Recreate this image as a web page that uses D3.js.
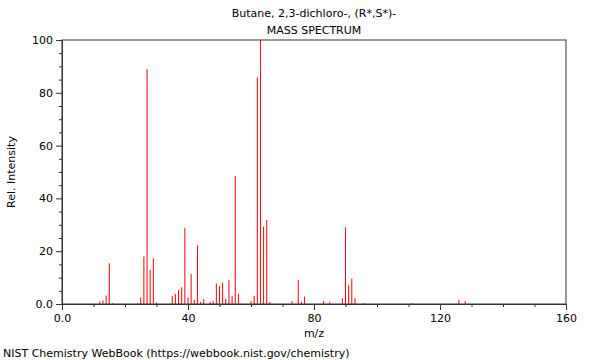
<!DOCTYPE html>
<html>
<head>
<meta charset="utf-8">
<script src="https://cdn.jsdelivr.net/npm/d3@7"></script>
<style>
  html, body { margin: 0; padding: 0; background: #fff; }
  svg { display: block; font-family: "DejaVu Sans", sans-serif; }
</style>
</head>
<body>
<svg id="chart" width="600" height="360"></svg>
<script>
// ---- data ----
const title1 = "Butane, 2,3-dichloro-, (R*,S*)-";
const title2 = "MASS SPECTRUM";
const xLabel = "m/z";
const yLabel = "Rel. Intensity";
const footer = "NIST Chemistry WebBook (https://webbook.nist.gov/chemistry)";

const mz = [12, 13, 14, 15, 16, 24, 25, 26, 27, 28, 29, 30,
            35, 36, 37, 38, 39, 40, 41, 42, 43, 44, 45, 47, 48,
            49, 50, 51, 52, 53, 54, 55, 56, 60, 61, 62, 63, 64, 65, 66,
            73, 75, 76, 77, 83, 85, 89, 90, 91, 92, 93, 96, 111, 126, 128];
const intensity = [1.0, 1.4, 3.2, 15.4, 0.3, 0.4, 2.5, 18.0, 89.0, 12.9, 17.3, 0.5,
                   3.0, 3.8, 5.3, 6.3, 28.7, 2.5, 11.4, 1.5, 22.3, 0.8, 1.8, 0.8, 1.2,
                   7.8, 6.8, 8.1, 1.9, 9.1, 3.0, 48.5, 3.9, 1.1, 3.0, 85.9, 100, 29.3, 31.8, 0.8,
                   1.1, 9.0, 0.8, 2.8, 1.1, 0.7, 2.2, 29.0, 7.1, 9.6, 2.2, 0.3, 0.3, 1.6, 1.1];

const xMajorTicks = [0, 40, 80, 120, 160];
const xMinorTicks = [10, 20, 30, 50, 60, 70, 90, 100, 110, 130, 140, 150];
const yMajorTicks = [0, 20, 40, 60, 80, 100];
const yMinorTicks = [5, 10, 15, 25, 30, 35, 45, 50, 55, 65, 70, 75, 85, 90, 95];

// ---- layout ----
const svg = d3.select("#chart");
const mLeft = 62, mRight = 566, mTop = 40, mBottom = 304;
const x = d3.scaleLinear().domain([0, 160]).range([mLeft, mRight]);
const y = d3.scaleLinear().domain([0, 100]).range([mBottom, mTop]);
const fmt = d => d === 0 ? "0.0" : String(d);
const axisColor = "#333";

// bars
svg.append("g").selectAll("line").data(mz).join("line")
  .attr("x1", d => x(d)).attr("x2", d => x(d))
  .attr("y1", y(0))
  .attr("y2", (d, i) => y(intensity[i]))
  .attr("stroke", "#ff0000").attr("stroke-width", 1);

// frame
svg.append("rect")
  .attr("x", mLeft).attr("y", mTop)
  .attr("width", mRight - mLeft).attr("height", mBottom - mTop)
  .attr("fill", "none").attr("stroke", axisColor).attr("stroke-width", 1);

// x axis
svg.append("g").attr("transform", `translate(0,${mBottom})`)
  .call(d3.axisBottom(x).tickValues(xMajorTicks).tickFormat(fmt).tickSize(6).tickPadding(4));
svg.append("g").attr("transform", `translate(0,${mBottom})`)
  .call(d3.axisBottom(x).tickValues(xMinorTicks).tickFormat("").tickSize(3))
  .call(g => g.select(".domain").remove());

// y axis
svg.append("g").attr("transform", `translate(${mLeft},0)`)
  .call(d3.axisLeft(y).tickValues(yMajorTicks).tickFormat(fmt).tickSize(6).tickPadding(3));
svg.append("g").attr("transform", `translate(${mLeft},0)`)
  .call(d3.axisLeft(y).tickValues(yMinorTicks).tickFormat("").tickSize(3))
  .call(g => g.select(".domain").remove());

svg.selectAll(".domain").attr("stroke", axisColor);
svg.selectAll(".tick line").attr("stroke", axisColor);
svg.selectAll(".tick text")
  .attr("font-family", "DejaVu Sans, sans-serif")
  .attr("font-size", 11).attr("fill", "#000");

// titles
svg.append("text").attr("x", (mLeft + mRight) / 2).attr("y", 17)
  .attr("text-anchor", "middle").attr("font-size", 11).text(title1);
svg.append("text").attr("x", (mLeft + mRight) / 2).attr("y", 34)
  .attr("text-anchor", "middle").attr("font-size", 11).text(title2);
svg.append("text").attr("x", (mLeft + mRight) / 2).attr("y", 337)
  .attr("text-anchor", "middle").attr("font-size", 11).text(xLabel);
svg.append("text")
  .attr("transform", `translate(15,${(mTop + mBottom) / 2}) rotate(-90)`)
  .attr("text-anchor", "middle").attr("font-size", 11).text(yLabel);
svg.append("text").attr("x", 3).attr("y", 357)
  .attr("font-size", 11).text(footer);
</script>
</body>
</html>
